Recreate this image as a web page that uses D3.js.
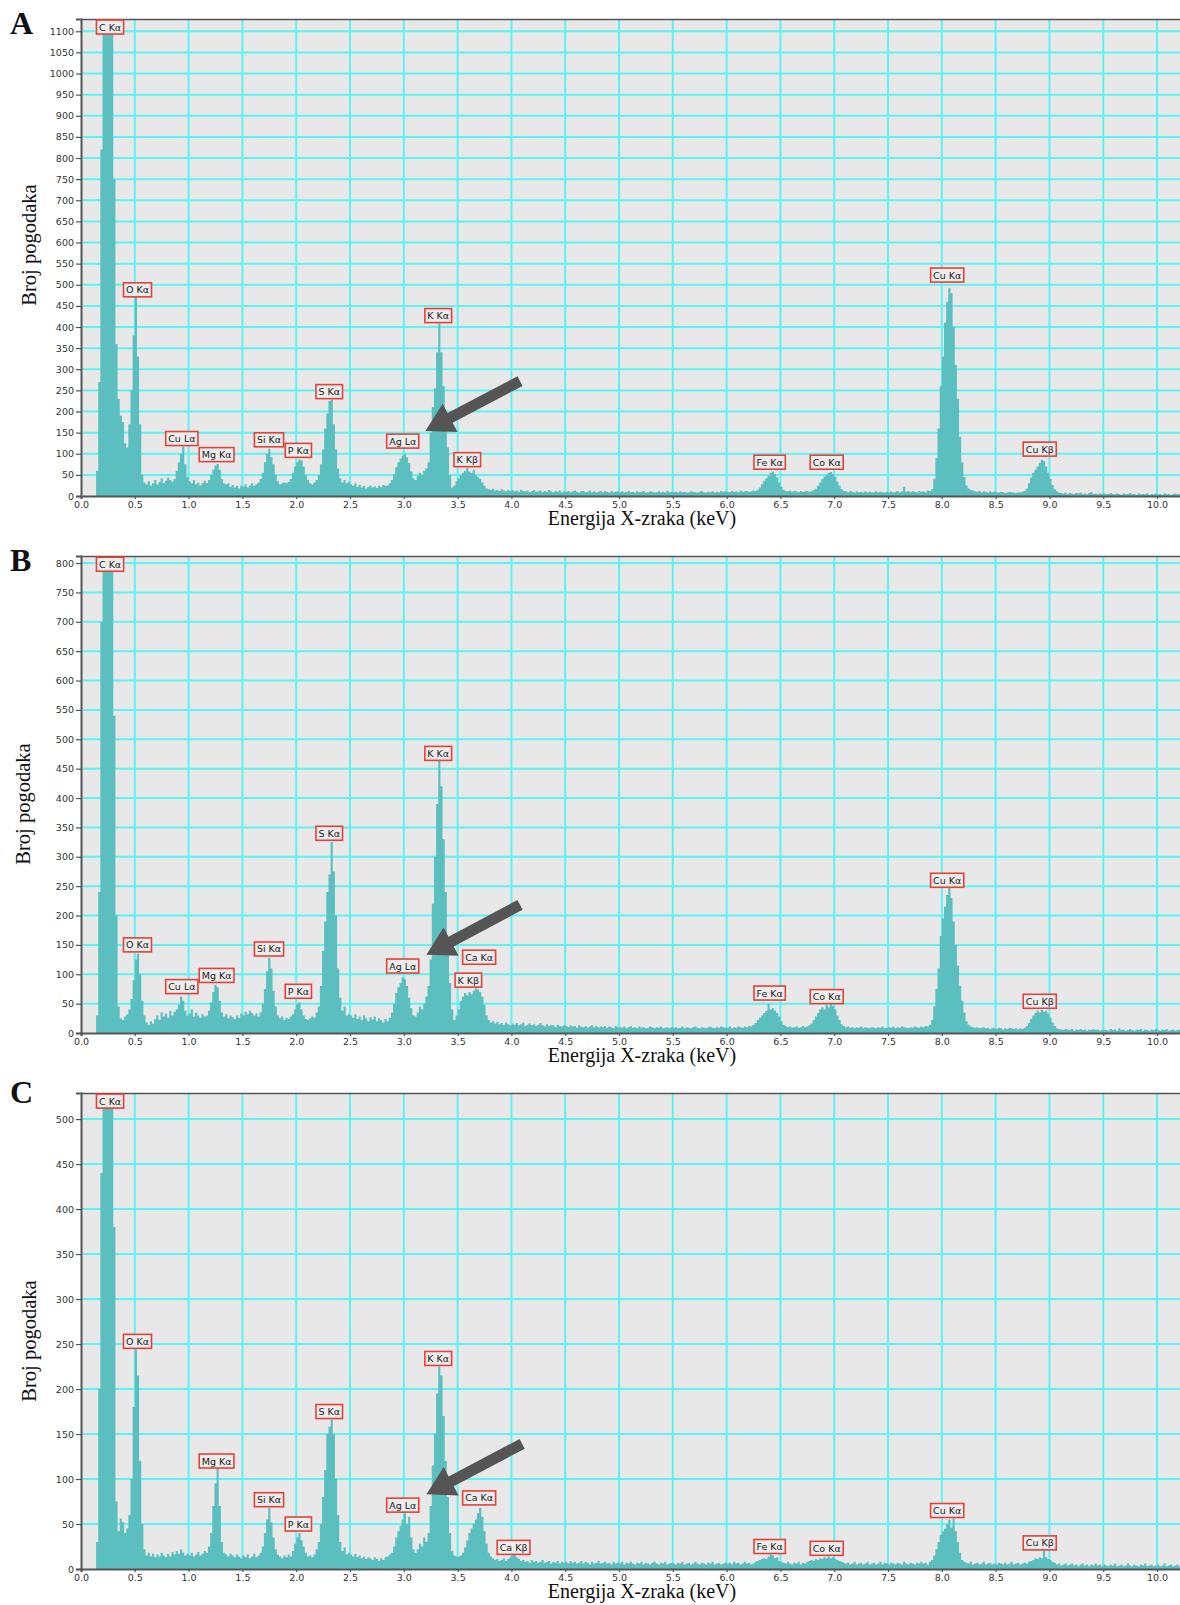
<!DOCTYPE html>
<html>
<head>
<meta charset="utf-8">
<script src="https://cdn.jsdelivr.net/npm/d3@7"></script>
<style>
  body { margin: 0; background: #fff; }
  svg { display: block; }
</style>
</head>
<body>
<div id="chart"></div>
<script>
// EDS spectra, 0.02 keV channels starting at 0.00 keV (one row = 0.5 keV)
const binKeV = 0.02;

const countsA = [
  0,0,0,0,0,0,0,60,270,820,1600,2400,2900,2700,1900,750,360,230,190,175,125,115,170,250,380,
  470,330,170,50,32,28,35,25,30,38,27,33,42,30,36,44,38,34,40,60,80,100,117,75,45,
  35,30,38,28,32,25,30,36,30,38,50,62,72,76,62,40,30,28,30,22,26,20,24,18,25,
  22,28,20,25,30,24,28,32,40,55,80,100,112,92,75,50,35,28,30,32,30,33,40,55,70,
  80,86,84,70,50,38,30,27,32,38,50,75,110,160,195,225,228,170,110,65,42,32,38,30,34,
  28,24,30,22,26,20,24,18,22,25,20,23,19,24,21,26,24,25,30,38,52,68,80,88,95,
  100,92,78,58,42,38,48,55,50,60,65,80,150,210,255,340,408,340,260,190,115,50,20,25,35,
  42,50,55,60,66,58,55,62,50,45,40,32,25,18,16,14,17,13,15,12,16,13,11,14,12,
  14,11,13,10,15,12,11,13,9,12,14,10,11,13,9,12,10,14,11,9,12,10,13,9,11,
  10,12,9,11,13,10,8,11,12,9,10,13,9,11,8,10,12,9,11,10,8,12,9,10,11,
  9,11,8,10,12,9,10,8,11,9,10,12,8,9,11,10,8,9,11,9,10,8,12,9,10,
  9,10,8,11,9,10,8,9,11,10,9,8,10,12,9,8,10,9,11,8,10,9,12,10,11,
  10,9,12,10,11,9,13,10,11,12,10,11,13,12,15,20,28,36,42,48,55,58,52,44,32,
  22,15,12,11,13,10,12,11,9,12,10,11,12,10,12,14,17,24,32,40,46,50,55,57,52,
  45,34,24,16,12,11,9,12,10,8,11,9,10,8,11,9,10,8,9,11,8,10,9,8,10,
  9,11,8,10,12,9,11,22,10,12,9,11,10,8,12,10,11,9,13,12,16,40,90,160,260,
  330,410,460,492,480,400,310,230,140,80,45,25,18,15,13,11,10,12,9,11,10,8,11,9,10,
  9,8,10,9,7,8,10,9,8,7,9,8,10,12,18,30,44,55,62,70,78,86,82,70,55,
  40,26,16,11,8,7,6,8,5,7,6,5,7,6,8,5,6,4,7,9,5,6,4,6,5,
  6,4,5,7,5,4,6,5,3,6,4,5,7,4,5,3,6,4,5,4,6,3,5,4,6,
  4,5,3,6,4,5,3,4,6,4,5
];

const countsB = [
  0,0,0,0,0,0,0,30,240,700,1800,2500,2700,2400,1500,540,200,45,25,22,28,32,40,58,90,
  125,135,100,55,30,18,14,20,16,24,30,22,35,28,33,26,38,30,36,40,48,62,55,38,30,
  33,40,28,35,30,26,32,28,30,38,52,70,82,78,55,35,28,32,25,30,27,24,30,26,33,
  30,36,32,38,34,30,33,28,35,50,75,105,128,110,72,45,30,25,28,22,26,24,28,32,40,
  50,52,40,30,24,22,25,28,26,35,45,80,140,190,240,270,325,275,200,110,60,38,45,30,32,
  30,26,32,24,28,22,30,25,20,27,23,28,20,25,22,18,24,20,26,35,50,68,78,85,95,
  92,80,60,42,30,28,35,45,40,50,62,80,125,220,300,390,464,420,330,240,160,85,40,22,30,
  40,55,62,68,64,70,66,72,76,74,70,62,48,30,22,18,20,16,19,15,17,14,18,15,13,
  16,14,17,13,15,18,12,14,16,13,15,12,14,17,13,11,15,12,14,13,10,14,12,11,13,
  12,10,13,11,12,9,13,11,10,12,9,11,13,10,12,9,11,10,12,9,11,10,8,12,10,
  10,9,11,8,10,12,9,10,8,11,9,10,8,9,11,10,8,10,9,11,8,9,10,8,10,
  9,10,8,9,11,8,10,9,8,10,11,9,8,10,9,8,10,11,9,8,10,9,11,10,9,
  9,11,8,10,9,11,10,9,11,10,12,11,14,17,22,26,30,34,38,50,40,42,38,34,28,
  20,14,12,10,11,9,10,11,9,10,12,10,11,13,16,22,28,34,40,44,40,48,44,50,46,
  40,30,22,15,12,10,11,9,10,8,10,9,11,8,10,9,8,10,9,8,10,9,11,8,9,
  10,9,11,8,10,9,11,10,9,8,10,9,11,10,9,11,10,12,11,14,22,45,75,110,165,
  195,215,235,248,230,190,150,115,80,55,35,20,14,11,10,9,10,8,9,10,8,9,7,9,8,
  7,9,8,6,8,7,9,8,7,8,6,8,7,9,12,17,24,30,34,38,35,39,36,38,33,
  26,18,12,8,7,6,5,7,6,5,7,4,6,5,7,5,6,4,6,5,7,5,6,4,5,
  6,5,4,7,5,6,4,8,5,6,4,5,7,5,4,6,5,7,4,6,5,4,6,5,7,
  5,4,6,5,7,4,5,6,4,5,6
];

const countsC = [
  0,0,0,0,0,0,0,30,200,440,900,1300,1400,1200,800,380,75,42,56,52,40,45,60,100,180,
  244,215,120,50,22,15,18,14,17,13,16,14,18,15,13,17,14,19,16,20,17,22,18,15,17,
  15,18,14,16,19,15,17,20,18,25,40,70,95,112,70,30,18,16,14,17,15,13,16,14,12,
  15,13,16,12,14,17,13,15,18,25,40,55,68,52,35,22,16,14,12,15,13,16,14,20,28,
  35,40,32,25,18,14,15,13,16,22,30,50,80,110,150,158,166,150,100,60,30,20,24,16,18,
  16,14,17,13,15,12,14,11,13,12,10,13,11,9,12,10,13,14,16,18,25,35,42,48,55,
  62,50,58,35,22,18,22,28,25,35,30,40,70,115,150,195,225,215,170,120,80,40,20,15,14,
  14,15,18,24,32,40,45,50,55,62,68,58,42,28,18,14,12,10,11,9,10,12,9,11,13,
  15,16,13,11,9,10,8,9,7,10,8,9,7,8,10,7,8,9,6,8,7,9,6,8,7,
  8,6,9,7,8,6,7,9,6,8,7,5,8,6,7,9,6,7,8,6,7,5,8,6,7,
  6,8,5,7,6,8,6,5,7,6,8,5,7,6,5,7,8,6,5,7,6,8,5,6,7,
  6,5,7,6,8,5,6,7,5,6,8,6,5,7,6,5,7,6,8,5,6,7,5,6,7,
  6,7,5,8,6,7,5,6,8,6,7,5,6,8,9,10,11,12,11,14,16,15,12,13,9,
  8,7,6,8,6,5,7,6,8,5,7,6,8,9,10,9,11,10,12,11,13,12,14,12,13,
  11,10,9,8,7,6,7,5,6,8,5,6,7,5,6,8,5,6,7,5,6,8,5,7,6,
  5,7,6,5,7,6,5,8,6,5,7,6,5,7,6,8,6,7,5,8,10,15,22,30,38,
  42,45,50,55,46,56,42,30,18,10,8,7,6,8,5,6,7,5,6,8,5,6,7,5,6,
  5,7,6,5,7,5,6,8,5,6,7,5,6,7,6,8,9,10,12,11,13,12,20,13,11,
  10,8,7,5,6,4,5,6,4,5,6,4,5,3,5,6,4,5,3,5,4,6,4,5,3,
  5,4,3,5,4,6,3,4,5,3,4,6,4,3,5,4,3,5,4,6,3,4,5,3,4,
  5,3,4,6,3,4,5,3,4,5,3
];

// peak labels: [text, keV, counts]
const labelsA = [
  ["C Kα",0.27,1110],["O Kα",0.525,488],["Cu Lα",0.937,136],["Mg Kα",1.26,98],
  ["Si Kα",1.747,133],["P Kα",2.02,108],["S Kα",2.307,247],["Ag Lα",2.99,130],
  ["K Kα",3.32,427],["K Kβ",3.59,86],["Fe Kα",6.40,80],["Co Kα",6.93,80],
  ["Cu Kα",8.05,523],["Cu Kβ",8.91,111]
];
const labelsB = [
  ["C Kα",0.27,798],["O Kα",0.525,150],["Cu Lα",0.937,79],["Mg Kα",1.26,98],
  ["Si Kα",1.747,143],["P Kα",2.02,71],["S Kα",2.307,340],["Ag Lα",2.99,114],
  ["K Kα",3.32,476],["Ca Kα",3.70,129],["K Kβ",3.60,90],["Fe Kα",6.40,68],
  ["Co Kα",6.93,62],["Cu Kα",8.05,260],["Cu Kβ",8.91,54]
];
const labelsC = [
  ["C Kα",0.27,520],["O Kα",0.525,253],["Mg Kα",1.26,120],["Si Kα",1.747,77],
  ["P Kα",2.02,50],["S Kα",2.307,175],["Ag Lα",2.99,71],["K Kα",3.32,234],
  ["Ca Kα",3.70,79],["Ca Kβ",4.02,24],["Fe Kα",6.40,25],["Co Kα",6.93,23],
  ["Cu Kα",8.05,65],["Cu Kβ",8.91,29]
];

// arrow pointing at Ag Lα: [tail, tip] as [keV, counts]
const arrowA = [[4.08,272],[3.20,154]];
const arrowB = [[4.08,218],[3.21,133]];
const arrowC = [[4.10,139],[3.21,83]];

const xTicks = d3.range(0, 10.01, 0.5);

const panels = [
  { letter: "A", counts: countsA, labels: labelsA, arrow: arrowA, yMax: 1129, top: 19, bottom: 496, titleX: 36, titleY: 245, letterY: 34 },
  { letter: "B", counts: countsB, labels: labelsB, arrow: arrowB, yMax: 812, top: 556, bottom: 1033, titleX: 30, titleY: 804, letterY: 571 },
  { letter: "C", counts: countsC, labels: labelsC, arrow: arrowC, yMax: 529, top: 1093, bottom: 1569, titleX: 36, titleY: 1341, letterY: 1103 }
];

const left = 81, right = 1180;

const svg = d3.select("#chart").append("svg")
    .attr("width", 1180)
    .attr("height", 1605);

const x = d3.scaleLinear().domain([0, 10.22]).range([left, 1180.7]);

panels.forEach(function(p, k) {
  const y = d3.scaleLinear().domain([0, p.yMax]).range([p.bottom, p.top]);
  const yTicks = d3.range(0, p.yMax + 1, 50);
  const g = svg.append("g");

  g.append("rect")
    .attr("x", left).attr("y", p.top)
    .attr("width", right - left).attr("height", p.bottom - p.top)
    .attr("fill", "#e8e8e8");

  // grid
  g.append("g").selectAll("line")
    .data(yTicks.filter(d => d > 0))
    .enter().append("line")
      .attr("x1", left).attr("x2", right)
      .attr("y1", d => y(d)).attr("y2", d => y(d))
      .attr("stroke", "#5ef2f2").attr("stroke-width", 2);
  g.append("g").selectAll("line")
    .data(xTicks.filter(d => d > 0))
    .enter().append("line")
      .attr("x1", d => x(d)).attr("x2", d => x(d))
      .attr("y1", p.top).attr("y2", p.bottom)
      .attr("stroke", "#5ef2f2").attr("stroke-width", 2);

  // spectrum
  const clipId = "clip" + k;
  g.append("clipPath").attr("id", clipId)
    .append("rect")
      .attr("x", left).attr("y", p.top)
      .attr("width", right - left).attr("height", p.bottom - p.top);

  const pts = p.counts.map((c, i) => [i * binKeV, c]);
  pts.push([p.counts.length * binKeV, p.counts[p.counts.length - 1]]);

  const area = d3.area()
    .x(d => x(d[0]))
    .y0(y(0))
    .y1(d => y(d[1]))
    .curve(d3.curveStepAfter);

  g.append("path")
    .datum(pts)
    .attr("clip-path", "url(#" + clipId + ")")
    .attr("d", area)
    .attr("fill", "#5bbfbf");

  // frame
  g.append("line")
    .attr("x1", left).attr("x2", right)
    .attr("y1", p.top + 0.5).attr("y2", p.top + 0.5)
    .attr("stroke", "#555").attr("stroke-width", 1.5);

  // axes
  const yAxis = g.append("g")
    .attr("transform", "translate(" + left + ",0)")
    .call(d3.axisLeft(y).tickValues(yTicks).tickSize(5).tickPadding(2).tickFormat(d3.format("d")));
  const xAxis = g.append("g")
    .attr("transform", "translate(0," + p.bottom + ")")
    .call(d3.axisBottom(x).tickValues(xTicks).tickSize(3).tickPadding(2).tickFormat(d3.format(".1f")));

  [yAxis, xAxis].forEach(function(a) {
    a.select(".domain").attr("stroke", "#555").attr("stroke-width", 2);
    a.selectAll(".tick line").attr("stroke", "#555").attr("stroke-width", 1.2);
    a.selectAll(".tick text")
      .attr("fill", "#333")
      .style("font-family", "'DejaVu Sans', Verdana, sans-serif")
      .style("font-size", "9.5px");
  });

  // peak labels
  const lab = g.append("g").selectAll("g")
    .data(p.labels)
    .enter().append("g")
      .attr("transform", d => "translate(" + x(d[1]) + "," + y(d[2]) + ")");
  lab.append("rect")
    .attr("fill", "#ececec")
    .attr("stroke", "#e5413b")
    .attr("stroke-width", 1.6);
  const texts = lab.append("text")
    .attr("text-anchor", "middle")
    .attr("y", 3.5)
    .attr("fill", "#222")
    .style("font-family", "'DejaVu Sans', Verdana, sans-serif")
    .style("font-size", "9.5px")
    .text(d => d[0]);
  texts.each(function(d) {
    const w = this.getComputedTextLength() + 5;
    d3.select(this.parentNode).select("rect")
      .attr("x", -w / 2).attr("y", -7)
      .attr("width", w).attr("height", 14);
  });

  // arrow
  const t0 = [x(p.arrow[0][0]), y(p.arrow[0][1])];
  const t1 = [x(p.arrow[1][0]), y(p.arrow[1][1])];
  const len = Math.hypot(t1[0] - t0[0], t1[1] - t0[1]);
  const u = [(t1[0] - t0[0]) / len, (t1[1] - t0[1]) / len];
  const n = [-u[1], u[0]];
  const hl = 28, hw = 16, sw = 5.5;
  const b = [t1[0] - u[0] * hl, t1[1] - u[1] * hl];
  const arrowPts = [
    [t0[0] + n[0] * sw, t0[1] + n[1] * sw],
    [b[0] + n[0] * sw, b[1] + n[1] * sw],
    [b[0] + n[0] * hw, b[1] + n[1] * hw],
    t1,
    [b[0] - n[0] * hw, b[1] - n[1] * hw],
    [b[0] - n[0] * sw, b[1] - n[1] * sw],
    [t0[0] - n[0] * sw, t0[1] - n[1] * sw]
  ];
  g.append("path")
    .attr("d", d3.line()(arrowPts) + "Z")
    .attr("fill", "#555");

  // titles
  g.append("text")
    .attr("x", 642).attr("y", p.bottom + 29)
    .attr("text-anchor", "middle")
    .style("font-family", "'Liberation Serif', 'Times New Roman', serif")
    .style("font-size", "20px")
    .attr("fill", "#111")
    .text("Energija X-zraka (keV)");

  g.append("text")
    .attr("transform", "translate(" + p.titleX + "," + p.titleY + ") rotate(-90)")
    .attr("text-anchor", "middle")
    .style("font-family", "'Liberation Serif', 'Times New Roman', serif")
    .style("font-size", "20.5px")
    .attr("fill", "#111")
    .text("Broj pogodaka");

  g.append("text")
    .attr("x", 10).attr("y", p.letterY)
    .style("font-family", "'Liberation Serif', 'Times New Roman', serif")
    .style("font-size", "32px")
    .style("font-weight", "bold")
    .attr("fill", "#111")
    .text(p.letter);
});
</script>
</body>
</html>
